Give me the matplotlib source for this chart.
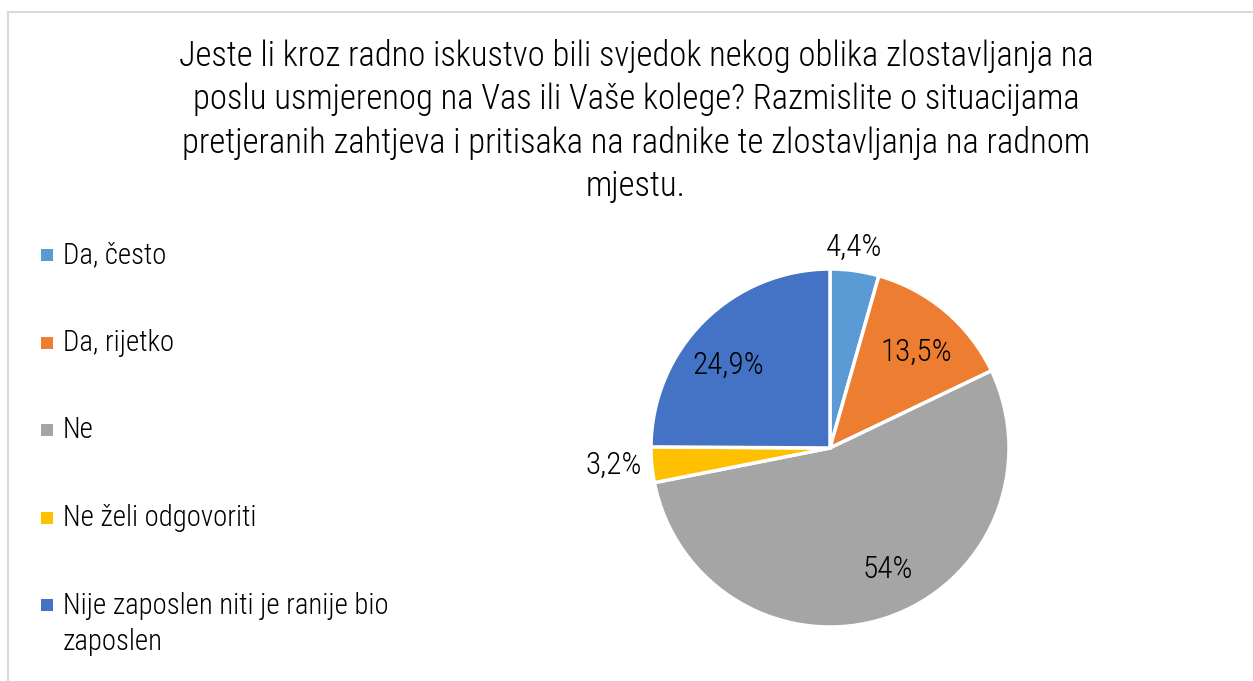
import numpy as np
import matplotlib
matplotlib.use("Agg")
import matplotlib.pyplot as plt
from matplotlib.patches import Rectangle

plt.rcParams["font.family"] = ["Liberation Sans Narrow", "DejaVu Sans Condensed",
                               "Roboto Condensed", "Roboto", "DejaVu Sans"]
plt.rcParams["font.weight"] = "light"

# ---------------------------------------------------------------------------
# Data
# ---------------------------------------------------------------------------
title = ("Jeste li kroz radno iskustvo bili svjedok nekog oblika zlostavljanja na\n"
         "poslu usmjerenog na Vas ili Vaše kolege? Razmislite o situacijama\n"
         "pretjeranih zahtjeva i pritisaka na radnike te zlostavljanja na radnom\n"
         "mjestu.")
categories = ["Da, često", "Da, rijetko", "Ne", "Ne želi odgovoriti",
              "Nije zaposlen niti je ranije bio\nzaposlen"]
values = [4.4, 13.5, 54, 3.2, 24.9]

colors = ["#5B9BD5", "#ED7D31", "#A5A5A5", "#FFC000", "#4472C4"]
# label placement: (distance from centre, angle shift from wedge middle in deg)
label_pos = [(1.13, 1.1), (0.72, -1.7), (0.75, 7.2), (1.21, -0.9), (0.735, 6.1)]

W, H = 1253, 681
fig = plt.figure(figsize=(W / 100, H / 100), dpi=100)


def fx(px):
    return px / W


def fy(py):
    return 1 - py / H


# chart area border (only top/left visible in crop)
fig.patches.append(Rectangle((fx(8), fy(H + 20)), fx(W + 20), fy(12) - fy(H + 20),
                             transform=fig.transFigure, fill=False,
                             edgecolor="#D9D9D9", linewidth=1.5))

fig.text(fx(636), fy(39), title, ha="center", va="top", fontsize=24.9,
         linespacing=1.36, color="#000000")

# pie
cx, cy, r = 830, 448, 179
ax = fig.add_axes([fx(cx - r), fy(cy + r), fx(2 * r), fy(cy - r) - fy(cy + r)])
wedges, _ = ax.pie(values, colors=colors, startangle=90, counterclock=False,
                   wedgeprops={"edgecolor": "white", "linewidth": 2.5})
ax.set_xlim(-1, 1)
ax.set_ylim(-1, 1)
ax.set_aspect("equal")
ax.axis("off")

for w, v, (d, shift) in zip(wedges, values, label_pos):
    ang = np.deg2rad((w.theta1 + w.theta2) / 2 + shift)
    txt = f"{v:g}".replace(".", ",") + "%"
    ax.text(d * np.cos(ang), d * np.sin(ang), txt, ha="center", va="center",
            fontsize=22.5, color="#000000", clip_on=False)

# legend
for i, (cat, col) in enumerate(zip(categories, colors)):
    y = 255 + i * 87.5
    fig.patches.append(Rectangle((fx(41), fy(y + 6)), fx(12), fy(y - 6) - fy(y + 6),
                                 transform=fig.transFigure, facecolor=col,
                                 edgecolor="none"))
    fig.text(fx(63), fy(y - 13.5), cat, ha="left", va="top", fontsize=20.7,
             linespacing=1.38, color="#000000")

fig.savefig("out.png", dpi=100, facecolor="white")
